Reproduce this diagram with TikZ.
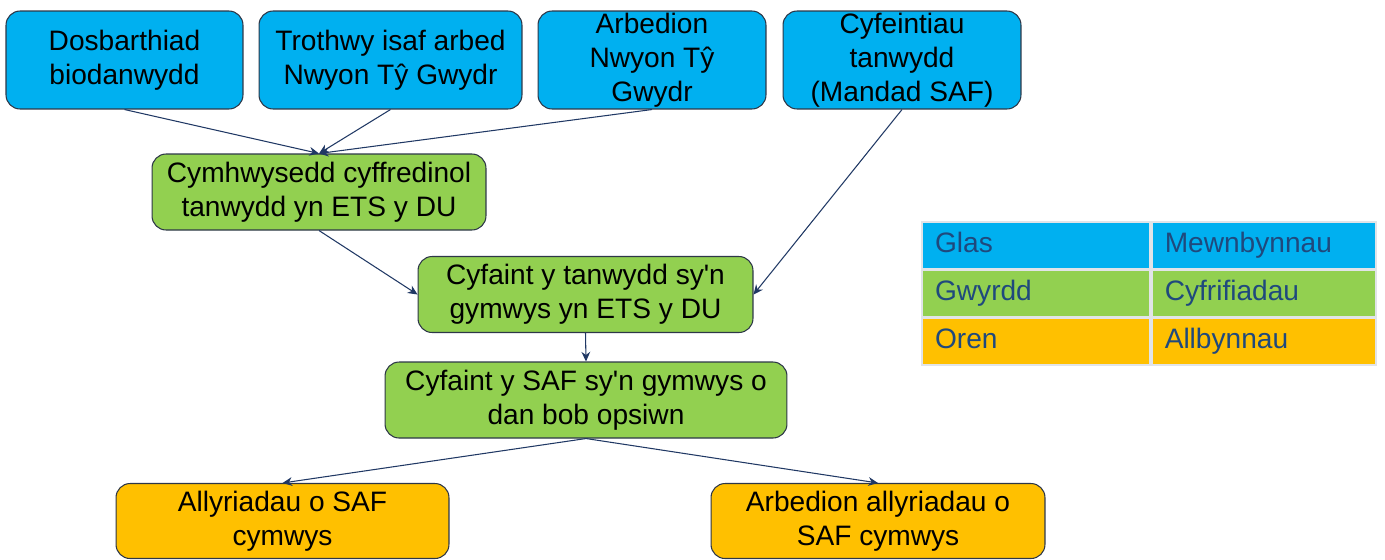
\documentclass[tikz,border=0pt]{standalone}
\usepackage{fontspec}
\setmainfont{Liberation Sans}[Ligatures=TeXOff]
\usepackage{tikz}
\usetikzlibrary{arrows.meta, positioning}
\definecolor{InputBlue}{RGB}{0,176,240}
\definecolor{CalcGreen}{RGB}{146,208,80}
\definecolor{OutputOrange}{RGB}{255,192,0}
\definecolor{BoxEdge}{RGB}{45,55,72}
\definecolor{ArrowNavy}{RGB}{32,56,100}
\definecolor{LegendText}{RGB}{31,73,125}
\definecolor{LegendLine}{RGB}{225,228,232}

\begin{document}
\begin{tikzpicture}[
		x=0.02cm, y=-0.02cm,
		base/.style={
			rectangle, rounded corners=8pt, draw=BoxEdge, line width=0.6pt,
			align=center, inner sep=0pt, font=\fontsize{16}{19.4}\selectfont
		},
		blueNode/.style={base, fill=InputBlue, minimum height=1.96cm},
		greenNode/.style={base, fill=CalcGreen, minimum height=1.52cm},
		orangeNode/.style={base, fill=OutputOrange, minimum height=1.5cm},
		legendCell/.style={
			rectangle, draw=LegendLine, line width=1pt, minimum height=0.93cm,
			inner xsep=0.26cm, text height=11.5pt, text depth=3.5pt,
			align=left, text=LegendText, font=\fontsize{16}{19}\selectfont
		},
		legLeft/.style={legendCell, text width=4.04cm},
		legRight/.style={legendCell, text width=3.96cm},
		arrow/.style={-{Stealth[length=5.5pt, width=5pt]}, ArrowNavy, line width=0.6pt}
		]
		\useasboundingbox (0,0) rectangle (1385,559);
		
		% inputs
		\node[blueNode, minimum width=4.74cm] (dosb) at (124.5,60) {Dosbarthiad\\biodanwydd};
		\node[blueNode, minimum width=5.26cm] (troth) at (390.5,60) {Trothwy isaf arbed\\Nwyon Tŷ Gwydr};
		\node[blueNode, minimum width=4.56cm] (arbed) at (652,60) {Arbedion\\Nwyon Tŷ\\Gwydr};
		\node[blueNode, minimum width=4.76cm] (cyfe) at (902,60) {Cyfeintiau\\tanwydd\\(Mandad SAF)};
		
		% calculations
		\node[greenNode, minimum width=6.68cm] (cymh) at (319,192) {Cymhwysedd cyffredinol\\tanwydd yn ETS y DU};
		\node[greenNode, minimum width=6.7cm] (cyft) at (585.5,294.5) {Cyfaint y tanwydd sy'n\\gymwys yn ETS y DU};
		\node[greenNode, minimum width=8.04cm] (cysaf) at (586,400) {Cyfaint y SAF sy'n gymwys o\\dan bob opsiwn};
		
		% outputs
		\node[orangeNode, minimum width=6.66cm] (ally) at (282.5,521) {Allyriadau o SAF\\cymwys};
		\node[orangeNode, minimum width=6.68cm] (arbally) at (878,521) {Arbedion allyriadau o\\SAF cymwys};
		
		% legend
		\node[legLeft, fill=InputBlue] (glas) at (1036,245.3) {Glas};
		\node[legRight, fill=InputBlue, right=0pt of glas] (mewn) {Mewnbynnau};
		\node[legLeft, fill=CalcGreen, below=0pt of glas] (gwyrdd) {Gwyrdd};
		\node[legRight, fill=CalcGreen, right=0pt of gwyrdd] (cyfr) {Cyfrifiadau};
		\node[legLeft, fill=OutputOrange, below=0pt of gwyrdd] (oren) {Oren};
		\node[legRight, fill=OutputOrange, right=0pt of oren] (allb) {Allbynnau};
		
		\draw [arrow] (dosb.south) -- (cymh.north);
		\draw [arrow] (troth.south) -- (cymh.north);
		\draw [arrow] (arbed.south) -- (cymh.north);
		\draw [arrow] (cymh.south) -- (cyft.west);
		\draw [arrow] (cyfe.south) -- (cyft.east);
		\draw [arrow] (cyft.south) -- (cysaf.north);
		\draw [arrow] (cysaf.south) -- (ally.north);
		\draw [arrow] (cysaf.south) -- (arbally.north);
	\end{tikzpicture}
\end{document}
